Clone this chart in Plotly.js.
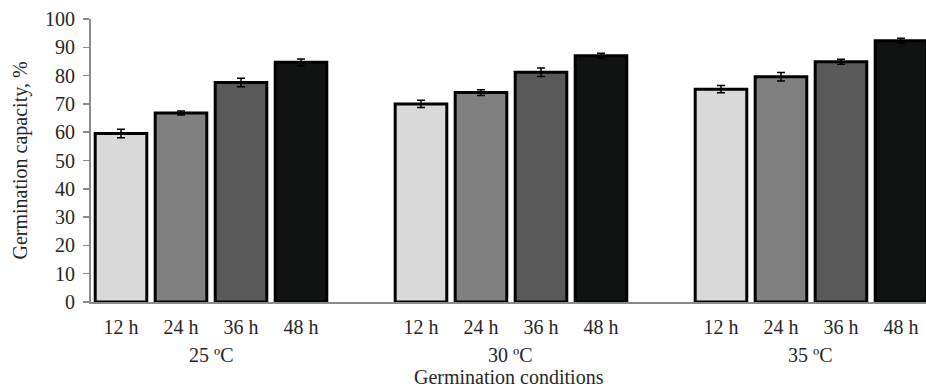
<!DOCTYPE html>
<html>
<head>
<meta charset="utf-8">
<script src="https://cdn.plot.ly/plotly-3.0.1.min.js"></script>
<style>html,body{margin:0;padding:0;background:#fff;}#chart{width:926px;height:390px;}</style>
</head>
<body>
<div id="chart"></div>
<script>
// Data
const conditions = ['25 ºC', '30 ºC', '35 ºC'];
const times = ['12 h', '24 h', '36 h', '48 h'];
const values12 = [59.5, 70.0, 75.2];
const values24 = [66.8, 74.0, 79.6];
const values36 = [77.6, 81.2, 84.9];
const values48 = [84.7, 87.0, 92.3];
const err12 = [1.5, 1.3, 1.3];
const err24 = [0.7, 1.0, 1.5];
const err36 = [1.5, 1.5, 0.9];
const err48 = [1.2, 0.9, 0.9];
const yTickVals = [0, 10, 20, 30, 40, 50, 60, 70, 80, 90, 100];

const series = [values12, values24, values36, values48];
const errs = [err12, err24, err36, err48];
const colors = ['#d9d9d9', '#808080', '#595959', '#111312'];
const slotsPerGroup = 5;

const traces = times.map((t, ti) => ({
  type: 'bar',
  name: t,
  x: conditions.map((c, gi) => gi * slotsPerGroup + ti),
  y: series[ti],
  width: 0.86,
  marker: {color: colors[ti], line: {color: '#000', width: 3}},
  error_y: {type: 'data', array: errs[ti], visible: true, color: '#000', thickness: 1.5, width: 4},
  hoverinfo: 'skip'
}));

const tickvals = [], ticktext = [];
conditions.forEach((c, gi) => times.forEach((t, ti) => {
  tickvals.push(gi * slotsPerGroup + ti);
  ticktext.push(t);
}));

const font = {family: 'Liberation Serif, Times New Roman, serif', size: 20, color: '#262626'};
const plotW = 926 - 91;

const annotations = conditions.map((c, gi) => ({
  text: c, xref: 'x', yref: 'paper', x: gi * slotsPerGroup + 1.5, y: 0,
  yshift: -53, showarrow: false, font: font, xanchor: 'center', yanchor: 'middle'
}));
annotations.push({
  text: 'Germination conditions', xref: 'paper', yref: 'paper', x: 0.5, y: 0,
  yshift: -75, showarrow: false, font: font, xanchor: 'center', yanchor: 'middle'
});
annotations.push({
  text: 'Germination capacity, %', xref: 'paper', yref: 'paper', x: -(91 - 20) / plotW, y: 0.5,
  textangle: -90, showarrow: false, font: font, xanchor: 'center', yanchor: 'middle'
});

const layout = {
  width: 926, height: 390,
  margin: {l: 91, r: 0, t: 19, b: 88},
  paper_bgcolor: '#fff', plot_bgcolor: '#fff',
  showlegend: false,
  barmode: 'overlay',
  font: font,
  xaxis: {
    range: [-0.5, 13.417], tickvals: tickvals, ticktext: ticktext,
    showline: true, linecolor: '#8a8a8a', linewidth: 2, ticks: '', showgrid: false,
    zeroline: false, tickfont: font, fixedrange: true, ticklabelstandoff: 6
  },
  yaxis: {
    range: [0, 100], tickvals: yTickVals, showline: true, linecolor: '#8a8a8a', linewidth: 2,
    ticks: 'outside', ticklen: 6, tickcolor: '#8a8a8a', tickwidth: 1.5, showgrid: false,
    zeroline: false, tickfont: font, fixedrange: true, ticklabelstandoff: 4
  },
  annotations: annotations
};

Plotly.newPlot('chart', traces, layout, {staticPlot: true, displayModeBar: false});
</script>
</body>
</html>
